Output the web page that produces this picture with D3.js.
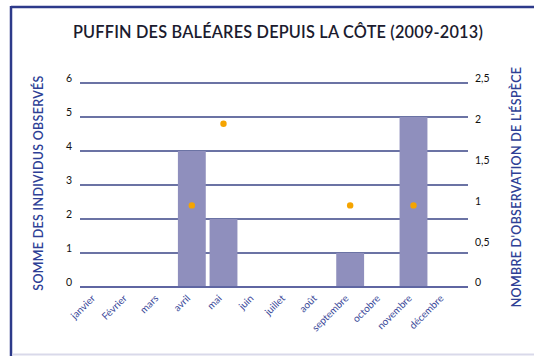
<!DOCTYPE html>
<html>
<head>
<meta charset="utf-8">
<script src="https://cdn.jsdelivr.net/npm/d3@7"></script>
<style>
  html, body { margin: 0; padding: 0; background: #fff; }
  svg { display: block; font-family: Lato, "Open Sans", sans-serif; }
</style>
</head>
<body>
<svg id="chart" width="534" height="356"></svg>
<script>
// Monthly sightings of the Balearic shearwater from the coast, 2009-2013
const months = ["janvier", "Février", "mars", "avril", "mai", "juin", "juillet",
                "août", "septembre", "octobre", "novembre", "décembre"];
// total number of birds counted (bars, left axis)
const individus = [0, 0, 0, 4, 2, 0, 0, 0, 1, 0, 5, 0];
// number of observations of the species (dots, right axis)
const observations = [null, null, null, 1, 2, null, null, null, 1, null, 1, null];
const leftTicks = [0, 1, 2, 3, 4, 5, 6];
const rightTicks = [0, 0.5, 1, 1.5, 2, 2.5];

const title = "PUFFIN DES BALÉARES DEPUIS LA CÔTE (2009-2013)";
const leftTitle = "SOMME DES INDIVIDUS OBSERVÉS";
const rightTitle = "NOMBRE D'OBSERVATION DE L'ÉSPÈCE";

const svg = d3.select("#chart");
const navy = "#2d3a8a";

// frame
svg.append("line").attr("x1", 11).attr("x2", 534).attr("y1", 7).attr("y2", 7)
  .attr("stroke", navy).attr("stroke-width", 2.5);
svg.append("line").attr("x1", 11).attr("x2", 11).attr("y1", 6).attr("y2", 356)
  .attr("stroke", navy).attr("stroke-width", 2.5);
svg.append("line").attr("x1", 12).attr("x2", 534).attr("y1", 354.5).attr("y2", 354.5)
  .attr("stroke", "#d9d9ea").attr("stroke-width", 2);

// title
svg.append("text").attr("x", 278).attr("y", 38)
  .attr("text-anchor", "middle").attr("font-size", 16.3).attr("font-weight", 600)
  .attr("fill", "#1b1b2e").attr("letter-spacing", 0.2).text(title);

const gx0 = 80, gx1 = 468;
const x = d3.scaleBand().domain(months).range([81, 461]).paddingInner(0.12).paddingOuter(0.06);
const yL = d3.scaleLinear().domain([0, 6]).range([287, 83]);
const yR = d3.scaleLinear().domain([0, 2.5]).range([287, 83]);

// horizontal grid
svg.append("g").selectAll("line").data(leftTicks.filter(d => d > 0)).join("line")
  .attr("x1", gx0).attr("x2", gx1)
  .attr("y1", d => yL(d)).attr("y2", d => yL(d))
  .attr("stroke", "#3a4586").attr("stroke-width", 1.4);

// bars
svg.append("g").selectAll("rect").data(months.map((m, i) => ({ m, v: individus[i] })).filter(d => d.v > 0))
  .join("rect")
  .attr("x", d => x(d.m)).attr("width", x.bandwidth())
  .attr("y", d => yL(d.v)).attr("height", d => yL(0) - yL(d.v))
  .attr("fill", "#8f8fbd");

// baseline
svg.append("line").attr("x1", gx0).attr("x2", gx1).attr("y1", yL(0)).attr("y2", yL(0))
  .attr("stroke", "#5f66a2").attr("stroke-width", 2);

// dots
svg.append("g").selectAll("circle").data(months.map((m, i) => ({ m, v: observations[i] })).filter(d => d.v != null))
  .join("circle")
  .attr("cx", d => x(d.m) + x.bandwidth() / 2).attr("cy", d => yR(d.v))
  .attr("r", 3.2).attr("fill", "#f5a400");

// left tick labels
const axL = d3.axisLeft(yL).tickValues(leftTicks).tickSize(0).tickPadding(0).tickFormat(d3.format("d"));
const gL = svg.append("g").attr("transform", "translate(72,0)").call(axL);
gL.select(".domain").remove();
gL.selectAll("text").attr("font-size", 10.5).attr("fill", "#111").attr("font-family", "Lato, sans-serif")
  .attr("dy", "-0.1em");

// right tick labels
const fr = d => (d === Math.floor(d) ? String(d) : String(d).replace(".", ","));
const axR = d3.axisRight(yR).tickValues(rightTicks).tickSize(0).tickPadding(0).tickFormat(fr);
const gR = svg.append("g").attr("transform", "translate(475,0)").call(axR);
gR.select(".domain").remove();
gR.selectAll("text").attr("font-size", 10.5).attr("fill", "#111").attr("font-family", "Lato, sans-serif")
  .attr("dy", "-0.1em");

// month labels, slanted at 45 degrees
svg.append("g").attr("class", "month-labels")
  .selectAll("text").data(months).join("text")
  .attr("transform", d => `translate(${x(d) + x.bandwidth() / 2 - 1},299) rotate(-45)`)
  .attr("text-anchor", "end")
  .attr("font-size", 10).attr("fill", "#3b4a9a")
  .text(d => d);

// axis titles
svg.append("text").attr("transform", "translate(43,183) rotate(-90)")
  .attr("text-anchor", "middle").attr("font-size", 12.5).attr("font-weight", 600)
  .attr("fill", "#2e3f96").attr("letter-spacing", 0.3).text(leftTitle);
svg.append("text").attr("transform", "translate(521,187) rotate(-90)")
  .attr("text-anchor", "middle").attr("font-size", 12.5).attr("font-weight", 600)
  .attr("fill", "#2e3f96").attr("letter-spacing", 0.3).text(rightTitle);
</script>
</body>
</html>
